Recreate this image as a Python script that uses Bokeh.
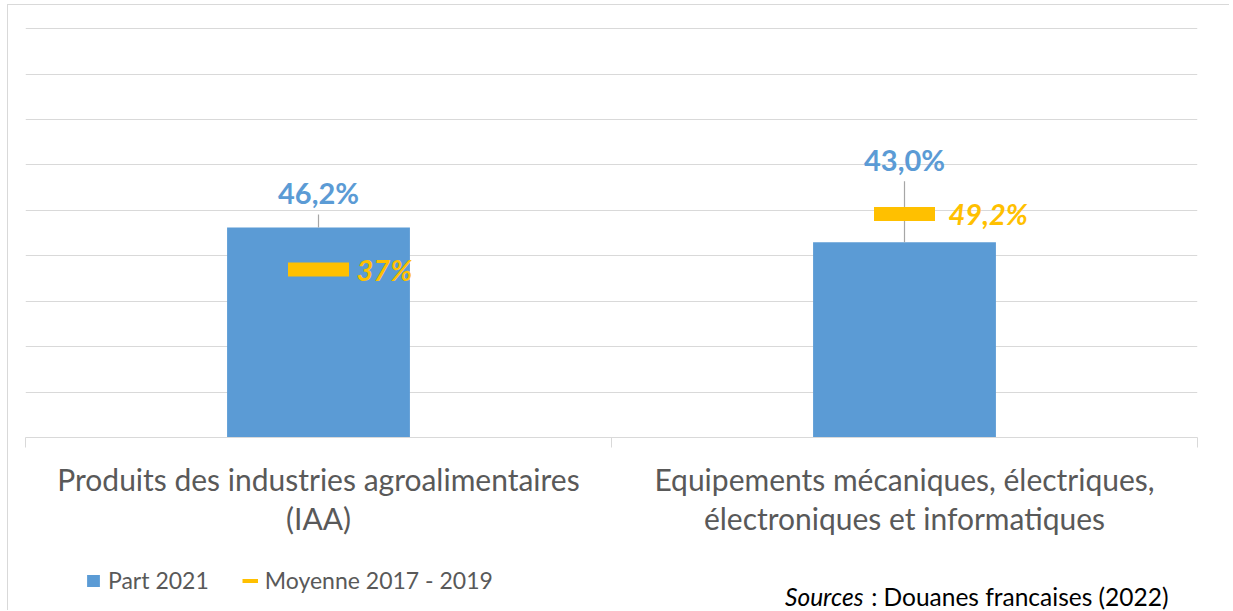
from bokeh.plotting import figure
from bokeh.layouts import column
from bokeh.models import (Range1d, LinearAxis, FixedTicker, Grid, Legend,
                          LegendItem, ColumnDataSource)
from bokeh.core.properties import value
from bokeh.embed import file_html
from bokeh.resources import INLINE

# ---------------- data ----------------
categories = [
    "Produits des industries agroalimentaires\n(IAA)",
    "Equipements mécaniques, électriques,\nélectroniques et informatiques",
]
part_2021 = [46.2, 43.0]
moyenne_2017_2019 = [37.0, 49.2]
part_labels = ["46,2%", "43,0%"]
moyenne_labels = ["37%", "49,2%"]
grid_values = [10, 20, 30, 40, 50, 60, 70, 80, 90]
series_names = ["Part 2021", "Moyenne 2017 - 2019"]
source_note_italic = "Sources"
source_note_rest = ": Douanes francaises (2022)"

# ---------------- layout / style ----------------
W, H1, H2 = 1221, 555, 50
BL, BR, BT, BB = 17, 32, 22, 123
Y_TOP = 90.25
BLUE = "#5B9BD5"
YELLOW = "#FFC000"
GRID = "#D9D9D9"
TEXT = "#595959"
FONT = "Lato"
label_lift_px = [35, 83]      # data labels moved above bars (px)
leader_gap_px = 22            # gap between label centre and leader top
moy_label_dx = [38, 44]       # yellow labels, offset right of marker centre

px_per_unit = (H1 - BT - BB) / Y_TOP
xs = [i + 0.5 for i in range(len(categories))]

p = figure(width=W, height=H1, output_backend="svg", toolbar_location=None,
           x_range=Range1d(0, len(categories)), y_range=Range1d(0, Y_TOP),
           x_axis_location=None, y_axis_location=None,
           min_border_left=BL, min_border_right=BR,
           min_border_top=BT, min_border_bottom=BB,
           background_fill_color="white", border_fill_color="white",
           outline_line_color=None)

p.center = [c for c in p.center if not isinstance(c, Grid)]
p.add_layout(Grid(dimension=1, ticker=FixedTicker(ticks=grid_values),
                  grid_line_color=GRID, grid_line_width=1))

xaxis = LinearAxis(
    ticker=FixedTicker(ticks=xs, minor_ticks=list(range(len(categories) + 1))),
    major_label_overrides={x: c for x, c in zip(xs, categories)},
    axis_line_color=GRID, axis_line_width=1,
    major_tick_line_color=None, major_tick_out=10, major_tick_in=0,
    minor_tick_line_color=GRID, minor_tick_out=10, minor_tick_in=0,
    major_label_standoff=13,
    major_label_text_font=FONT, major_label_text_font_size="30px",
    major_label_text_color=TEXT, major_label_text_line_height=1.11,
)
p.add_layout(xaxis, "below")

src = ColumnDataSource(dict(
    x=xs, part=part_2021, moy=moyenne_2017_2019,
    part_lbl=part_labels, moy_lbl=moyenne_labels,
    lift=[-v for v in label_lift_px],
    moy_dx=moy_label_dx,
    leader_top=[v + (l - leader_gap_px) / px_per_unit
                for v, l in zip(part_2021, label_lift_px)],
))

p.vbar(x="x", top="part", bottom=0, width=0.312, source=src,
       fill_color=BLUE, line_color=None)

p.segment(x0="x", y0="part", x1="x", y1="leader_top", source=src,
          line_color="#A6A6A6", line_width=1.2)

p.text(x="x", y="part", text="part_lbl", y_offset="lift", source=src,
       text_align="center", text_baseline="middle",
       text_font=value(FONT), text_font_style="bold",
       text_font_size="29px", text_color=BLUE)

p.rect(x="x", y="moy", width=61, height=14, width_units="screen",
       height_units="screen", source=src, fill_color=YELLOW, line_color=None)

p.text(x="x", y="moy", text="moy_lbl", x_offset="moy_dx", source=src,
       text_align="left", text_baseline="middle",
       text_font=value(FONT), text_font_style="bold italic",
       text_font_size="29px", text_color=YELLOW)

# ---------------- legend + source strip ----------------
p2 = figure(width=W, height=H2, output_backend="svg", toolbar_location=None,
            x_range=Range1d(0, W), y_range=Range1d(0, H2),
            x_axis_location=None, y_axis_location=None,
            min_border=0, min_border_left=0, min_border_right=0,
            min_border_top=0, min_border_bottom=0,
            background_fill_color="white", border_fill_color="white",
            outline_line_color=None)
p2.center = [c for c in p2.center if not isinstance(c, Grid)]

# legend proxies (kept outside the visible strip; only their swatches show)
leg_bar = p2.vbar(x=[-50], top=[-50], bottom=[-60], width=1,
                  fill_color=BLUE, line_color=None)
leg_dash = p2.line(x=[-60, -50], y=[-50, -50], line_color=YELLOW, line_width=4)

legend = Legend(items=[LegendItem(label=series_names[0], renderers=[leg_bar]),
                       LegendItem(label=series_names[1], renderers=[leg_dash])],
                location=(60, 16), orientation="horizontal",
                glyph_width=16, glyph_height=15, label_standoff=7, spacing=33,
                padding=0, margin=0, border_line_color=None,
                background_fill_alpha=0,
                label_text_font=FONT, label_text_font_size="23px",
                label_text_color=TEXT)
p2.add_layout(legend)

p2.text(x=[873], y=[14], text=[source_note_italic], text_align="right",
        text_baseline="alphabetic", text_font=value(FONT),
        text_font_style="italic", text_font_size="24.5px", text_color="#000000")
p2.text(x=[881], y=[14], text=[source_note_rest], text_align="left",
        text_baseline="alphabetic", text_font=value(FONT),
        text_font_size="24.5px", text_color="#000000")

layout = column(p, p2, spacing=0)
layout.styles = {"margin-left": "7px", "margin-top": "4px",
                 "border-left": "1px solid #D9D9D9",
                 "border-top": "1px solid #D9D9D9"}

open("out.html", "w").write(file_html(layout, INLINE))
